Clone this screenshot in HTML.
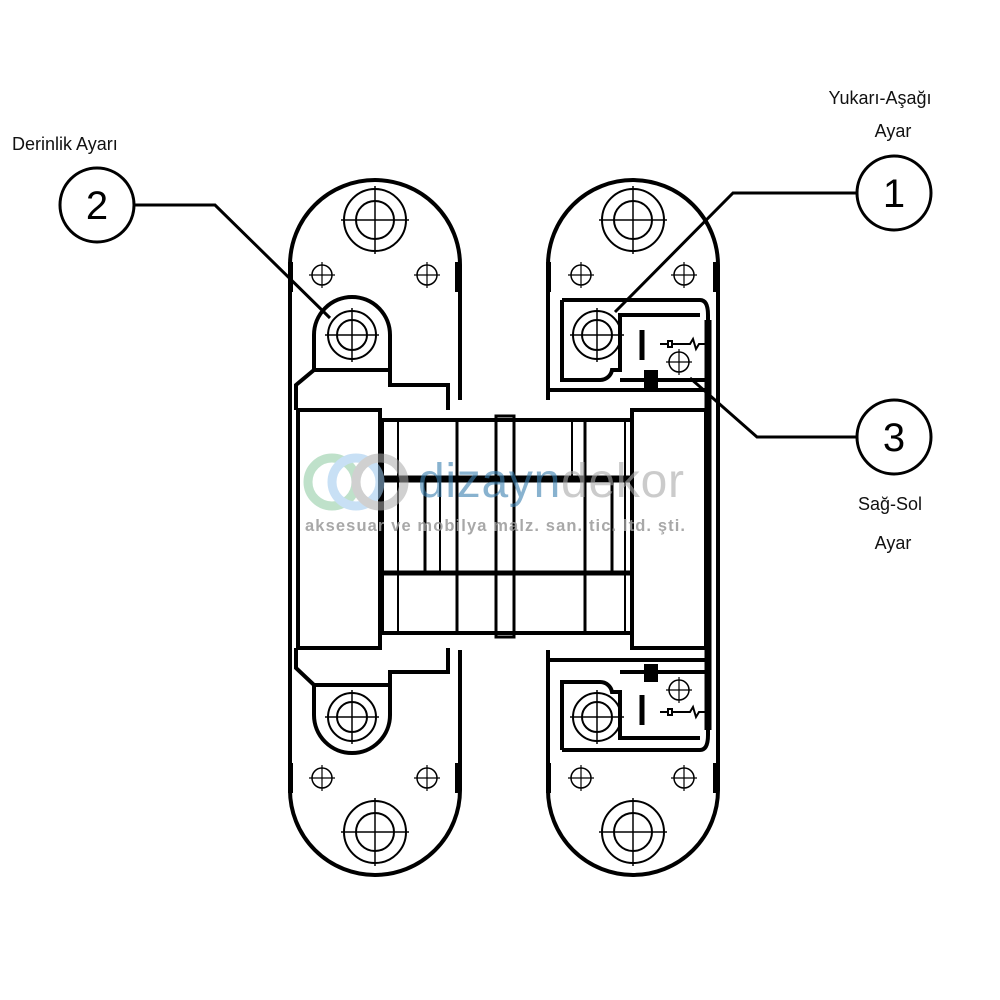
<!DOCTYPE html>
<html><head><meta charset="utf-8"><style>html,body{margin:0;padding:0;background:#fff}svg{display:block}</style></head>
<body>
<svg width="1000" height="1000" viewBox="0 0 1000 1000" xmlns="http://www.w3.org/2000/svg" font-family="Liberation Sans, DejaVu Sans, sans-serif">
<defs>
<g id="big"><circle r="31" fill="none" stroke="#000" stroke-width="2"/><circle r="19" fill="none" stroke="#000" stroke-width="2"/><line x1="-34" y1="0" x2="34" y2="0" stroke="#000" stroke-width="1.5"/><line x1="0" y1="-34" x2="0" y2="34" stroke="#000" stroke-width="1.5"/></g>
<g id="mid"><circle r="24" fill="none" stroke="#000" stroke-width="2"/><circle r="15" fill="none" stroke="#000" stroke-width="2"/><line x1="-27" y1="0" x2="27" y2="0" stroke="#000" stroke-width="1.5"/><line x1="0" y1="-27" x2="0" y2="27" stroke="#000" stroke-width="1.5"/></g>
<g id="sm"><circle r="10" fill="none" stroke="#000" stroke-width="1.5"/><line x1="-13" y1="0" x2="13" y2="0" stroke="#000" stroke-width="1.2"/><line x1="0" y1="-13" x2="0" y2="13" stroke="#000" stroke-width="1.2"/></g>
</defs>
<g fill="none" stroke="#000" stroke-width="4">
<path d="M290 265 A85 85 0 0 1 460 265 L460 790 A85 85 0 0 1 290 790 Z"/>
<path d="M548 265 A85 85 0 0 1 718 265 L718 790 A85 85 0 0 1 548 790 Z"/>
</g>
<rect x="455" y="400" width="100" height="250" fill="#fff"/>
<g fill="none" stroke="#000" stroke-width="4">
<path d="M314 370 L314 335 A38 38 0 0 1 390 335 L390 370"/>
<path d="M296 410 L296 385 L314 370 L390 370 L390 385 L448 385 L448 410"/>
<path d="M314 685 L314 715 A38 38 0 0 0 390 715 L390 685"/>
<path d="M296 648 L296 668 L314 685 L390 685 L390 672 L448 672 L448 648"/>
<rect x="298" y="410" width="82" height="238"/>
<rect x="382" y="420" width="250" height="213"/>
<line x1="382" y1="479" x2="632" y2="479" stroke-width="7"/>
<line x1="382" y1="573" x2="632" y2="573" stroke-width="5"/>
<line x1="398" y1="420" x2="398" y2="633" stroke-width="2"/>
<line x1="425" y1="479" x2="425" y2="573" stroke-width="3"/>
<line x1="440" y1="479" x2="440" y2="573" stroke-width="2"/>
<line x1="457" y1="420" x2="457" y2="633" stroke-width="3"/>
<rect x="496" y="416" width="18" height="221" stroke-width="3"/>
<line x1="572" y1="420" x2="572" y2="479" stroke-width="2"/>
<line x1="585" y1="420" x2="585" y2="633" stroke-width="3"/>
<line x1="612" y1="479" x2="612" y2="573" stroke-width="3"/>
<line x1="625" y1="420" x2="625" y2="633" stroke-width="2"/>
<rect x="632" y="410" width="74" height="238"/>
<line x1="548" y1="390" x2="708" y2="390"/>
<line x1="548" y1="660" x2="708" y2="660"/>
<line x1="708" y1="320" x2="708" y2="730" stroke-width="7"/>
<path d="M562 300 L700 300 Q708 300 708 315 L708 330"/>
<path d="M562 300 L562 380 L600 380 A12 12 0 0 0 612 370 L620 370 L620 315 L700 315" />
<line x1="620" y1="380" x2="708" y2="380"/>
<rect x="646" y="372" width="10" height="14" fill="#000"/>
<line x1="642" y1="330" x2="642" y2="360" stroke-width="5"/>
<path d="M562 750 L700 750 Q708 750 708 735 L708 718"/>
<path d="M562 750 L562 682 L600 682 A12 12 0 0 1 612 692 L620 692 L620 738 L700 738"/>
<line x1="620" y1="672" x2="708" y2="672"/>
<rect x="646" y="666" width="10" height="14" fill="#000"/>
<line x1="642" y1="695" x2="642" y2="725" stroke-width="5"/>
</g>
<g stroke="#000" stroke-width="2" fill="none">
<path d="M660 344 L668 344 M668 341 h4 v6 h-4 z M672 344 L690 344 L693 339 L696 349 L699 344 L706 344"/>
<path d="M660 712 L668 712 M668 709 h4 v6 h-4 z M672 712 L690 712 L693 707 L696 717 L699 712 L706 712"/>
</g>
<g fill="#000"><rect x="288" y="262" width="5" height="30"/><rect x="455" y="262" width="5" height="30"/><rect x="546" y="262" width="5" height="30"/><rect x="713" y="262" width="5" height="30"/>
<rect x="288" y="763" width="5" height="30"/><rect x="455" y="763" width="5" height="30"/><rect x="546" y="763" width="5" height="30"/><rect x="713" y="763" width="5" height="30"/></g>
<use href="#big" x="375" y="220"/><use href="#big" x="633" y="220"/>
<use href="#big" x="375" y="832"/><use href="#big" x="633" y="832"/>
<use href="#mid" x="352" y="335"/><use href="#mid" x="352" y="717"/>
<use href="#mid" x="597" y="335"/><use href="#mid" x="597" y="717"/>
<use href="#sm" x="322" y="275"/><use href="#sm" x="427" y="275"/><use href="#sm" x="581" y="275"/><use href="#sm" x="684" y="275"/>
<use href="#sm" x="322" y="778"/><use href="#sm" x="427" y="778"/><use href="#sm" x="581" y="778"/><use href="#sm" x="684" y="778"/>
<use href="#sm" x="679" y="362"/><use href="#sm" x="679" y="690"/>
<g fill="none" stroke="#000" stroke-width="3">
<circle cx="97" cy="205" r="37"/><polyline points="134,205 215,205 330,318"/>
<circle cx="894" cy="193" r="37"/><polyline points="857,193 733,193 615,312"/>
<circle cx="894" cy="437" r="37"/><polyline points="857,437 757,437 690,378"/>
</g>
<g font-size="40" text-anchor="middle"><text x="97" y="219">2</text><text x="894" y="207">1</text><text x="894" y="451">3</text></g>
<g font-size="18" fill="#111"><text x="12" y="150">Derinlik Ayarı</text>
<text x="880" y="104" text-anchor="middle">Yukarı-Aşağı</text><text x="893" y="137" text-anchor="middle">Ayar</text>
<text x="890" y="510" text-anchor="middle">Sağ-Sol</text><text x="893" y="549" text-anchor="middle">Ayar</text></g>
<g opacity="0.55" fill="none" stroke-width="9">
<circle cx="332" cy="482" r="24" stroke="#8cc9a0"/><circle cx="356" cy="482" r="24" stroke="#9cc8ee"/><circle cx="380" cy="482" r="24" stroke="#aaa"/>
</g>
<text x="418" y="497" font-size="48" fill="#3a7fb0" opacity="0.6" textLength="266">dizayn<tspan fill="#aaa">dekor</tspan></text>
<text x="305" y="531" font-size="16.5" font-weight="bold" fill="#999" opacity="0.85" textLength="380">aksesuar ve mobilya malz. san. tic. ltd. şti.</text>
</svg>
</body></html>
